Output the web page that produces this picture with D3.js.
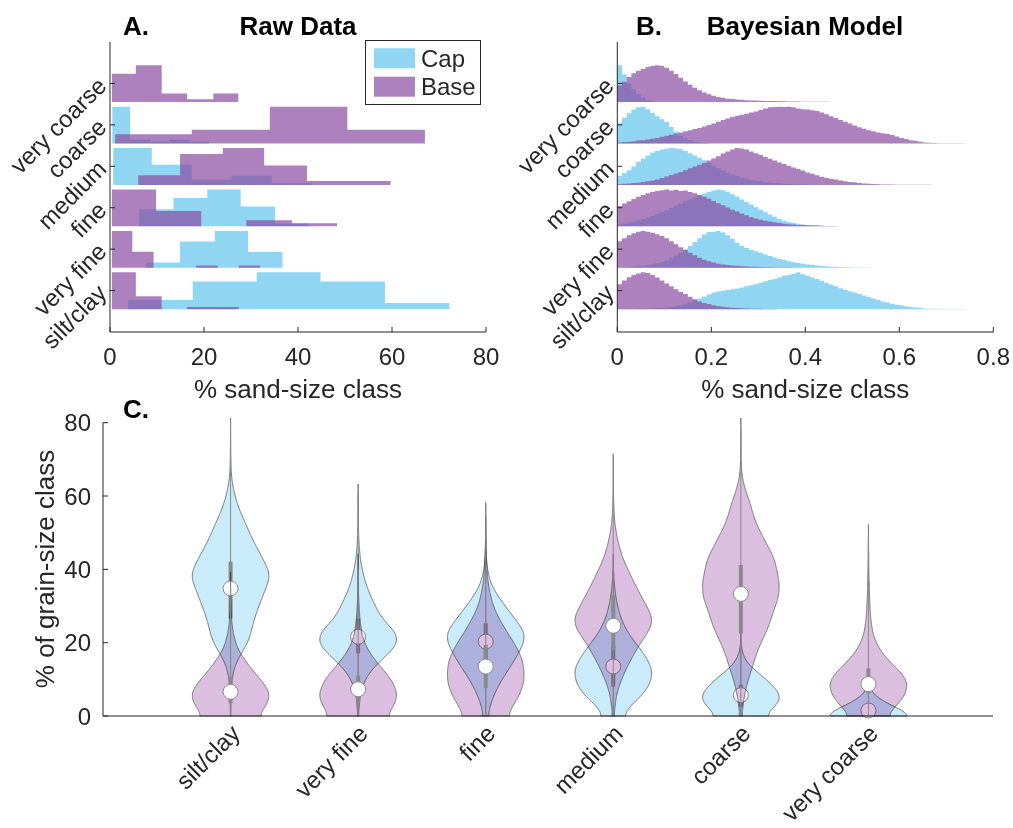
<!DOCTYPE html>
<html><head><meta charset="utf-8">
<script src="https://cdn.jsdelivr.net/npm/d3@7"></script>
<style>
body{margin:0;background:#fff;}
svg text{font-family:"Liberation Sans",Arial,Helvetica,sans-serif;fill:#262626;}
</style></head><body>
<svg id="fig" width="1013" height="828"></svg>
<script>
// grain-size classes, bottom row / leftmost violin first
const classes = ["silt/clay","very fine","fine","medium","coarse","very coarse"];
const seriesNames = ["Cap","Base"];

// Panel A: raw histograms (bin edges in %, counts per bin)
const rawCapEdges = [
  [3.9,17.6,31.2,44.8,58.5,72.2],
  [7.7,14.9,22.3,29.4,36.7],
  [6.2,13.5,20.7,27.8,35.1,42.2],
  [0.7,8.9,17.4,25.9,34.4,42.9],
  [0.5,4.3,8.5,12.7,16.9,21.1],
  []
];
const rawCapCounts = [
  [3,9,12,9,2],
  [1,5,7,3],
  [6,10,13,7,1],
  [20,11,3,5,1],
  [18,2,1,2,1],
  []
];
const rawBaseEdges = [
  [0.4,5.5,11.0,16.4,21.9,27.4],
  [0.4,4.75,9.27,13.8,18.3,22.9,27.4,31.9],
  [0.4,9.8,19.4,29.0,38.7,48.3],
  [6.0,14.9,24.0,32.8,41.9,50.9,59.7],
  [1.1,17.4,34.0,50.5,67.0],
  [0.4,5.5,11.0,16.4,22.0,27.3]
];
const rawBaseCounts = [
  [17,6,0,1,1],
  [16,7,0,0,1,0,1],
  [12,5,0,2,1],
  [5,16,19,10,2,2],
  [2,3,8,3],
  [10,13,3,1,3]
];

// Panel B: posterior histograms, bins of width 0.01 starting at 0 (relative frequency)
const postBinWidth = 0.01;
const postCap = [
  [0.005,0.005,0.006,0.008,0.01,0.012,0.015,0.02,0.025,0.03,0.04,0.06,0.08,0.1,0.13,0.18,0.24,0.29,0.34,0.4,0.45,0.48,0.5,0.52,0.54,0.56,0.59,0.62,0.65,0.68,0.72,0.76,0.79,0.82,0.86,0.9,0.93,0.96,1.0,0.95,0.91,0.86,0.82,0.77,0.72,0.67,0.62,0.57,0.53,0.49,0.45,0.41,0.37,0.33,0.29,0.25,0.21,0.18,0.15,0.12,0.1,0.08,0.06,0.045,0.03,0.02,0.015,0.012,0.01,0.008,0.006,0.005,0.004,0.003,0.002,0.002,0.001,0.001],
  [0.01,0.015,0.02,0.03,0.04,0.05,0.07,0.09,0.12,0.16,0.2,0.26,0.33,0.41,0.5,0.6,0.7,0.8,0.9,0.97,0.98,1.0,0.96,0.88,0.78,0.68,0.6,0.54,0.49,0.45,0.41,0.36,0.32,0.28,0.24,0.21,0.18,0.15,0.13,0.11,0.09,0.075,0.06,0.05,0.04,0.03,0.025,0.02,0.015,0.012,0.01,0.008,0.006,0.005,0.004,0.003,0.002,0.002,0.001,0.001],
  [0.06,0.08,0.1,0.13,0.16,0.2,0.24,0.28,0.33,0.38,0.44,0.5,0.56,0.62,0.68,0.73,0.79,0.84,0.89,0.93,0.97,1.0,0.98,0.94,0.87,0.8,0.73,0.66,0.59,0.52,0.45,0.38,0.32,0.26,0.2,0.15,0.12,0.09,0.07,0.05,0.04,0.03,0.02,0.015,0.01,0.008,0.005,0.004,0.003,0.002,0.001],
  [0.25,0.32,0.4,0.5,0.62,0.72,0.8,0.87,0.92,0.96,0.98,1.0,0.99,0.97,0.92,0.86,0.8,0.74,0.67,0.6,0.52,0.45,0.39,0.33,0.28,0.24,0.2,0.17,0.14,0.12,0.1,0.08,0.065,0.05,0.04,0.03,0.022,0.015,0.01,0.006,0.004],
  [0.55,0.7,0.82,0.92,0.98,1.0,0.93,0.83,0.74,0.66,0.58,0.45,0.32,0.22,0.14,0.09,0.05,0.03,0.015,0.005],
  [1.0,0.75,0.5,0.35,0.22,0.12,0.05,0.02]
];
const postBase = [
  [0.68,0.78,0.87,0.93,0.97,1.0,0.98,0.93,0.86,0.78,0.7,0.62,0.54,0.47,0.41,0.34,0.27,0.21,0.17,0.14,0.11,0.09,0.07,0.05,0.04,0.03,0.025,0.02,0.015,0.012,0.01,0.008,0.006,0.004,0.002,0.001],
  [0.72,0.8,0.88,0.94,0.98,1.0,0.98,0.95,0.91,0.86,0.8,0.72,0.64,0.56,0.48,0.41,0.34,0.27,0.22,0.18,0.14,0.11,0.09,0.075,0.065,0.055,0.045,0.035,0.03,0.025,0.02,0.015,0.012,0.01,0.008,0.006,0.005,0.004,0.003,0.002,0.001],
  [0.55,0.62,0.68,0.74,0.8,0.85,0.9,0.93,0.96,0.98,1.0,0.97,0.99,0.96,0.97,0.93,0.9,0.85,0.8,0.75,0.69,0.63,0.57,0.51,0.45,0.4,0.35,0.3,0.25,0.21,0.18,0.15,0.13,0.11,0.09,0.07,0.06,0.05,0.04,0.035,0.03,0.025,0.02,0.015,0.012,0.01,0.008,0.006,0.005,0.004,0.003,0.002,0.002,0.001,0.001],
  [0.02,0.03,0.04,0.05,0.06,0.08,0.1,0.12,0.15,0.19,0.23,0.27,0.31,0.35,0.4,0.45,0.5,0.55,0.6,0.66,0.72,0.78,0.85,0.91,0.96,1.0,0.99,0.96,0.91,0.86,0.81,0.76,0.71,0.66,0.61,0.57,0.52,0.47,0.43,0.39,0.34,0.3,0.26,0.22,0.19,0.17,0.15,0.12,0.1,0.08,0.07,0.05,0.04,0.03,0.025,0.02,0.015,0.012,0.01,0.008,0.006,0.005,0.004,0.003,0.003,0.002,0.002,0.001],
  [0.03,0.04,0.05,0.06,0.08,0.09,0.11,0.13,0.15,0.18,0.21,0.24,0.27,0.3,0.33,0.36,0.39,0.42,0.46,0.5,0.54,0.59,0.64,0.68,0.72,0.75,0.78,0.81,0.84,0.87,0.91,0.95,0.98,0.99,1.0,0.99,1.0,0.98,0.95,0.93,0.92,0.9,0.88,0.84,0.79,0.74,0.69,0.64,0.59,0.54,0.49,0.44,0.4,0.36,0.33,0.3,0.28,0.26,0.23,0.19,0.15,0.12,0.09,0.07,0.05,0.03,0.02,0.015,0.01,0.01,0.008,0.006,0.005,0.004,0.003,0.002,0.002,0.001],
  [0.45,0.55,0.68,0.78,0.85,0.9,0.95,0.98,1.0,0.98,0.93,0.85,0.76,0.66,0.56,0.47,0.39,0.32,0.26,0.21,0.17,0.14,0.11,0.09,0.08,0.07,0.06,0.05,0.045,0.04,0.035,0.032,0.03,0.027,0.024,0.021,0.018,0.016,0.014,0.012,0.01,0.009,0.008,0.007,0.006,0.005,0.004,0.003,0.002]
];

// Panel C: summary statistics (% of grain-size class)
const capMedian = [34.8, 21.6, 20.3, 13.5, 5.7, 1.5];
const baseMedian = [6.6, 7.3, 13.5, 24.6, 33.3, 8.7];
const capQ1 = [26.6, 17.1, 15.5, 8.0, 2.5, 0.5];
const capQ3 = [42.1, 26.6, 25.3, 19.0, 8.5, 3.0];
const baseQ1 = [3.5, 3.5, 7.6, 18.0, 22.5, 6.2];
const baseQ3 = [10.7, 11.0, 19.4, 33.0, 41.2, 13.0];
const capMax = [80.0, 60.9, 50.0, 40.0, 19.0, 7.0];
const baseMax = [35.0, 40.0, 57.5, 71.6, 77.5, 48.9];

const rawTicks = [0, 20, 40, 60, 80];
const postTicks = [0, 0.2, 0.4, 0.6, 0.8];
const pctTicks = [0, 20, 40, 60, 80];

// ---------------------------------------------------------------
const svg = d3.select("#fig");
const AXIS = "#262626";
const CAP = "#90d5f2";
const BASE = "rgb(138,74,162)";
const BASE_OPACITY = 0.7;

const rowY = d3.scaleLinear().domain([0, 7]).range([332, 42]);
const xA = d3.scaleLinear().domain([0, 80]).range([110, 486]);
const xB = d3.scaleLinear().domain([0, 0.8]).range([617.3, 993.3]);
const ROW_BASE = 0.45, ROW_HEIGHT = 0.89;

function stepArea(x, cat, maxV) {
  return d3.area()
    .curve(d3.curveStepAfter)
    .x(d => x(d.x))
    .y0(rowY(cat - ROW_BASE))
    .y1(d => rowY(cat - ROW_BASE + ROW_HEIGHT * d.v / maxV));
}
function edgePoints(edges, counts) {
  if (!counts.length) return [];
  const pts = counts.map((c, i) => ({x: edges[i], v: c}));
  pts.push({x: edges[counts.length], v: counts[counts.length - 1]});
  return pts;
}
function binPoints(vals, w) {
  const pts = vals.map((v, i) => ({x: i * w, v}));
  pts.push({x: vals.length * w, v: vals[vals.length - 1]});
  return pts;
}

function drawRowAxes(g, x, ticks, fmt) {
  // histogram rows: left + bottom axis lines with inward ticks
  g.append("line").attr("x1", x.range()[0]).attr("x2", x.range()[0])
    .attr("y1", rowY(7)).attr("y2", rowY(0)).attr("stroke", AXIS).attr("stroke-width", 1);
  g.append("line").attr("x1", x.range()[0]).attr("x2", x.range()[1])
    .attr("y1", rowY(0)).attr("y2", rowY(0)).attr("stroke", AXIS).attr("stroke-width", 1);
  ticks.forEach(t => {
    g.append("line").attr("x1", x(t)).attr("x2", x(t))
      .attr("y1", rowY(0)).attr("y2", rowY(0) - 5).attr("stroke", AXIS);
    g.append("text").attr("x", x(t)).attr("y", 365).attr("text-anchor", "middle")
      .attr("font-size", 24).text(fmt(t));
  });
  classes.forEach((c, i) => {
    const y = rowY(i + 1);
    g.append("line").attr("x1", x.range()[0]).attr("x2", x.range()[0] + 5)
      .attr("y1", y).attr("y2", y).attr("stroke", AXIS);
    g.append("text")
      .attr("transform", `translate(${x.range()[0] - 8},${y - 2}) rotate(-45)`)
      .attr("text-anchor", "end").attr("dominant-baseline", "central")
      .attr("font-size", 24).text(c);
  });
  const mid = (x.range()[0] + x.range()[1]) / 2;
  g.append("text").attr("x", mid).attr("y", 398).attr("text-anchor", "middle")
    .attr("font-size", 26).text("% sand-size class");
}

// ---- Panel A
const gA = svg.append("g");
classes.forEach((c, i) => {
  const cat = i + 1;
  const cp = edgePoints(rawCapEdges[i], rawCapCounts[i]);
  if (cp.length) gA.append("path").attr("d", stepArea(xA, cat, d3.max(rawCapCounts[i]))(cp)).attr("fill", CAP);
});
classes.forEach((c, i) => {
  const cat = i + 1;
  const bp = edgePoints(rawBaseEdges[i], rawBaseCounts[i]);
  if (bp.length) gA.append("path").attr("d", stepArea(xA, cat, d3.max(rawBaseCounts[i]))(bp))
    .attr("fill", BASE).attr("fill-opacity", BASE_OPACITY);
});
drawRowAxes(gA, xA, rawTicks, d3.format("d"));
gA.append("text").attr("x", 123).attr("y", 35).attr("font-size", 26).attr("font-weight", "bold").style("fill", "#000").text("A.");
gA.append("text").attr("x", 298).attr("y", 35).attr("text-anchor", "middle").attr("font-size", 26).attr("font-weight", "bold").style("fill", "#000").text("Raw Data");

// legend
const lg = gA.append("g");
lg.append("rect").attr("x", 365.5).attr("y", 40.5).attr("width", 115).attr("height", 64)
  .attr("fill", "#fff").attr("stroke", AXIS);
seriesNames.forEach((s, k) => {
  const yy = 48.3 + k * 28.4;
  const r = lg.append("rect").attr("x", 374).attr("y", yy).attr("width", 41).attr("height", 20);
  if (k === 0) r.attr("fill", CAP); else r.attr("fill", BASE).attr("fill-opacity", BASE_OPACITY);
  lg.append("text").attr("x", 421).attr("y", yy + 10).attr("dominant-baseline", "central")
    .attr("font-size", 24).text(s);
});

// ---- Panel B
const gB = svg.append("g");
classes.forEach((c, i) => {
  gB.append("path").attr("d", stepArea(xB, i + 1, d3.max(postCap[i]))(binPoints(postCap[i], postBinWidth))).attr("fill", CAP);
});
classes.forEach((c, i) => {
  gB.append("path").attr("d", stepArea(xB, i + 1, d3.max(postBase[i]))(binPoints(postBase[i], postBinWidth)))
    .attr("fill", BASE).attr("fill-opacity", BASE_OPACITY);
});
drawRowAxes(gB, xB, postTicks, d => d === 0 ? "0" : d3.format(".1f")(d));
gB.append("text").attr("x", 636).attr("y", 35).attr("font-size", 26).attr("font-weight", "bold").style("fill", "#000").text("B.");
gB.append("text").attr("x", 805).attr("y", 35).attr("text-anchor", "middle").attr("font-size", 26).attr("font-weight", "bold").style("fill", "#000").text("Bayesian Model");

// ---- Panel C: violins
const xC = d3.scaleLinear().domain([0, 7]).range([103, 996]);
const yC = d3.scaleLinear().domain([0, 80]).range([716, 422.7]);
const gC = svg.append("g");
const HALF_W = 0.3, BW = 1.7;
const CAP_C = "#c9ebfa", BASE_C = "#dcbfe0", EDGE = "#767676", STAT = "#8a8a8a";

function violinProfile(hist) {
  // Gaussian-smoothed density of the posterior histogram, reflected at 0
  const g = u => Math.exp(-0.5 * (u / BW) * (u / BW));
  const top = hist.length * postBinWidth * 100 + 2 * BW;
  const ys = d3.range(0, top, 0.25);
  const dens = ys.map(y => d3.sum(hist, (h, k) => {
    const c = (k + 0.5) * postBinWidth * 100;
    return h * (g(y - c) + g(y + c));
  }));
  const m = d3.max(dens);
  return ys.map((y, k) => ({y, w: HALF_W * dens[k] / m}));
}

function drawViolin(cat, hist, fill, blend, med, q1, q3, mx) {
  const prof = violinProfile(hist);
  const area = d3.area().curve(d3.curveLinear)
    .y(d => yC(d.y)).x0(d => xC(cat - d.w)).x1(d => xC(cat + d.w));
  const p = gC.append("path").attr("d", area(prof)).attr("fill", fill)
    .attr("stroke", EDGE).attr("stroke-width", 1);
  if (blend) p.style("mix-blend-mode", "multiply");
  gC.append("line").attr("x1", xC(cat)).attr("x2", xC(cat)).attr("y1", yC(0)).attr("y2", yC(mx))
    .attr("stroke", STAT).attr("stroke-width", 1);
  gC.append("line").attr("x1", xC(cat)).attr("x2", xC(cat)).attr("y1", yC(q1)).attr("y2", yC(q3))
    .attr("stroke", STAT).attr("stroke-width", 4);
  gC.append("circle").attr("cx", xC(cat)).attr("cy", yC(med)).attr("r", 7.5)
    .attr("fill", "#fff").attr("stroke", STAT).attr("stroke-width", 1);
}

classes.forEach((c, i) => {
  drawViolin(i + 1, postCap[i], CAP_C, false, capMedian[i], capQ1[i], capQ3[i], capMax[i]);
  drawViolin(i + 1, postBase[i], BASE_C, true, baseMedian[i], baseQ1[i], baseQ3[i], baseMax[i]);
});

// axes for panel C
gC.append("line").attr("x1", xC(0)).attr("x2", xC(0)).attr("y1", yC(80)).attr("y2", yC(0)).attr("stroke", AXIS);
gC.append("line").attr("x1", xC(0)).attr("x2", xC(7) - 3).attr("y1", yC(0)).attr("y2", yC(0)).attr("stroke", AXIS);
pctTicks.forEach(t => {
  gC.append("line").attr("x1", xC(0)).attr("x2", xC(0) + 5).attr("y1", yC(t)).attr("y2", yC(t)).attr("stroke", AXIS);
  gC.append("text").attr("x", 91).attr("y", yC(t)).attr("dy", "0.36em").attr("text-anchor", "end")
    .attr("font-size", 24).text(t);
});
classes.forEach((c, i) => {
  gC.append("text")
    .attr("transform", `translate(${xC(i + 1) + 5},${yC(0) + 13}) rotate(-45)`)
    .attr("text-anchor", "end").attr("dominant-baseline", "central")
    .attr("font-size", 24).text(c);
});
gC.append("text").attr("transform", "translate(54,569) rotate(-90)").attr("text-anchor", "middle")
  .attr("font-size", 26).text("% of grain-size class");
gC.append("text").attr("x", 123).attr("y", 418).attr("font-size", 26).attr("font-weight", "bold").style("fill", "#000").text("C.");
</script>
</body></html>
